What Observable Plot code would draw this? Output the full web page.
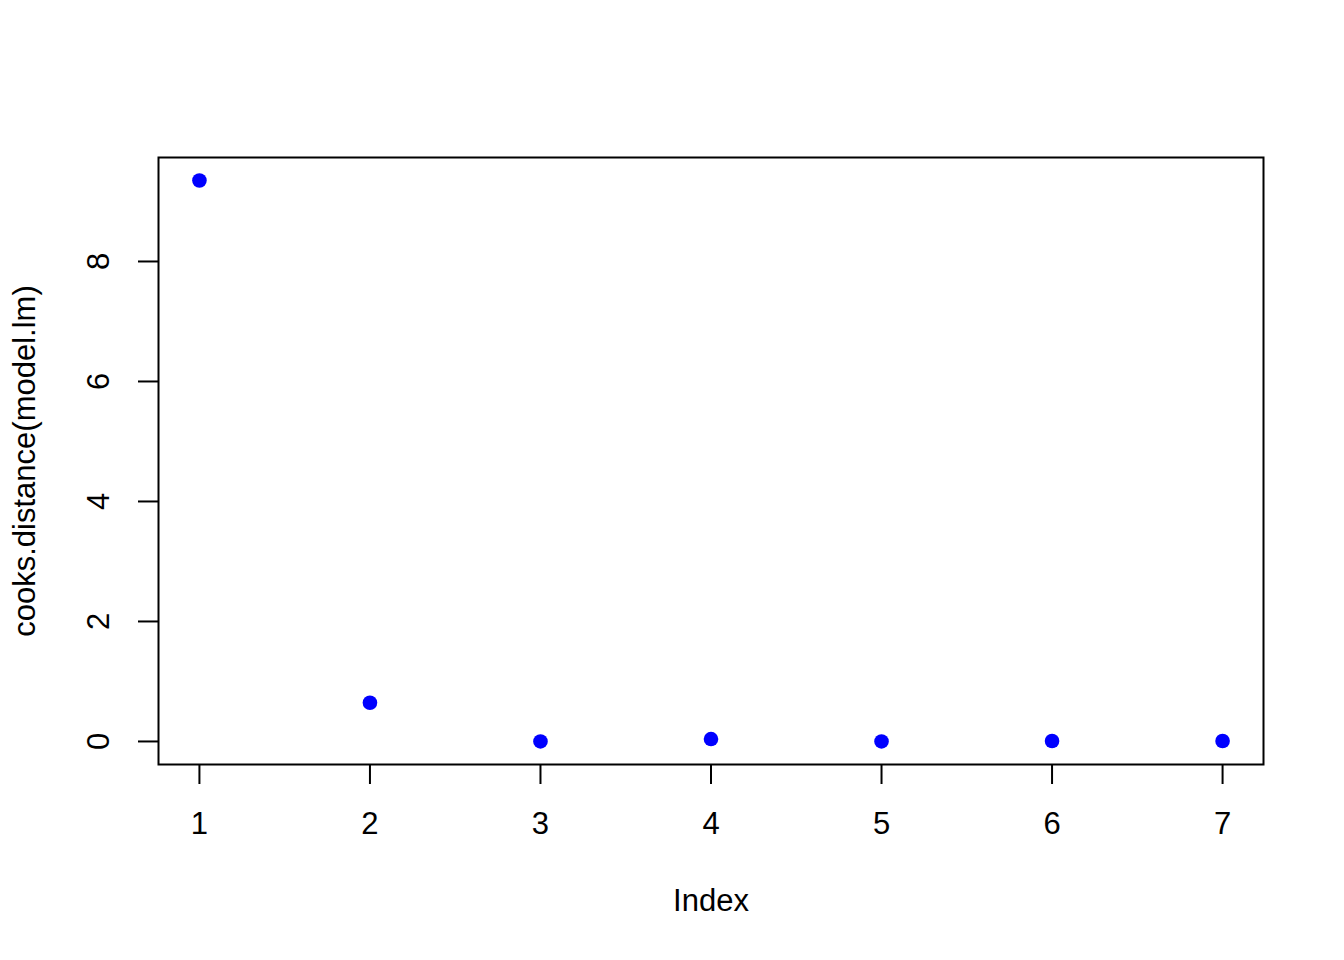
<!DOCTYPE html>
<html>
<head>
<meta charset="utf-8">
<script src="https://cdn.jsdelivr.net/npm/d3@7"></script>
<script src="https://cdn.jsdelivr.net/npm/@observablehq/plot@0.6"></script>
<style>
  html, body { margin: 0; padding: 0; background: white; }
</style>
</head>
<body>
<div id="chart"></div>
<script>
const index = [1, 2, 3, 4, 5, 6, 7];
const cooksDistance = [9.35, 0.645, 0.0, 0.04, 0.0, 0.008, 0.008];
const xTicks = [1, 2, 3, 4, 5, 6, 7];
const yTicks = [0, 2, 4, 6, 8];

const data = index.map((d, i) => ({ index: d, cd: cooksDistance[i] }));
const font = "'Liberation Sans', Arial, Helvetica, sans-serif";

const chart = Plot.plot({
  width: 1344,
  height: 960,
  marginLeft: 158,
  marginRight: 81,
  marginTop: 157,
  marginBottom: 196,
  style: { fontFamily: font, fontSize: "31px", color: "black", background: "white" },
  x: { domain: [0.76, 7.24] },
  y: { domain: [-0.384, 9.733] },
  marks: [
    Plot.frame({ stroke: "black", strokeWidth: 2 }),
    Plot.axisX({ ticks: xTicks, tickSize: 20, tickPadding: 27, strokeWidth: 2, label: null, tickFormat: d => String(d), fontSize: 31 }),
    Plot.axisY({ ticks: yTicks, tickSize: 20, strokeWidth: 2, label: null, tickFormat: () => "" }),
    Plot.text(yTicks, { y: d => d, text: d => String(d), frameAnchor: "left", dx: -59, rotate: -90, fontSize: 31, lineAnchor: "middle", textAnchor: "middle" }),
    Plot.text(["Index"], { frameAnchor: "bottom", dy: 137, lineAnchor: "middle", fontSize: 31 }),
    Plot.text(["cooks.distance(model.lm)"], { frameAnchor: "left", dx: -133, rotate: -90, lineAnchor: "middle", textAnchor: "middle", fontSize: 31 }),
    Plot.dot(data, { x: "index", y: "cd", r: 7.3, fill: "blue", stroke: null })
  ]
});
document.getElementById("chart").appendChild(chart);
</script>
</body>
</html>
